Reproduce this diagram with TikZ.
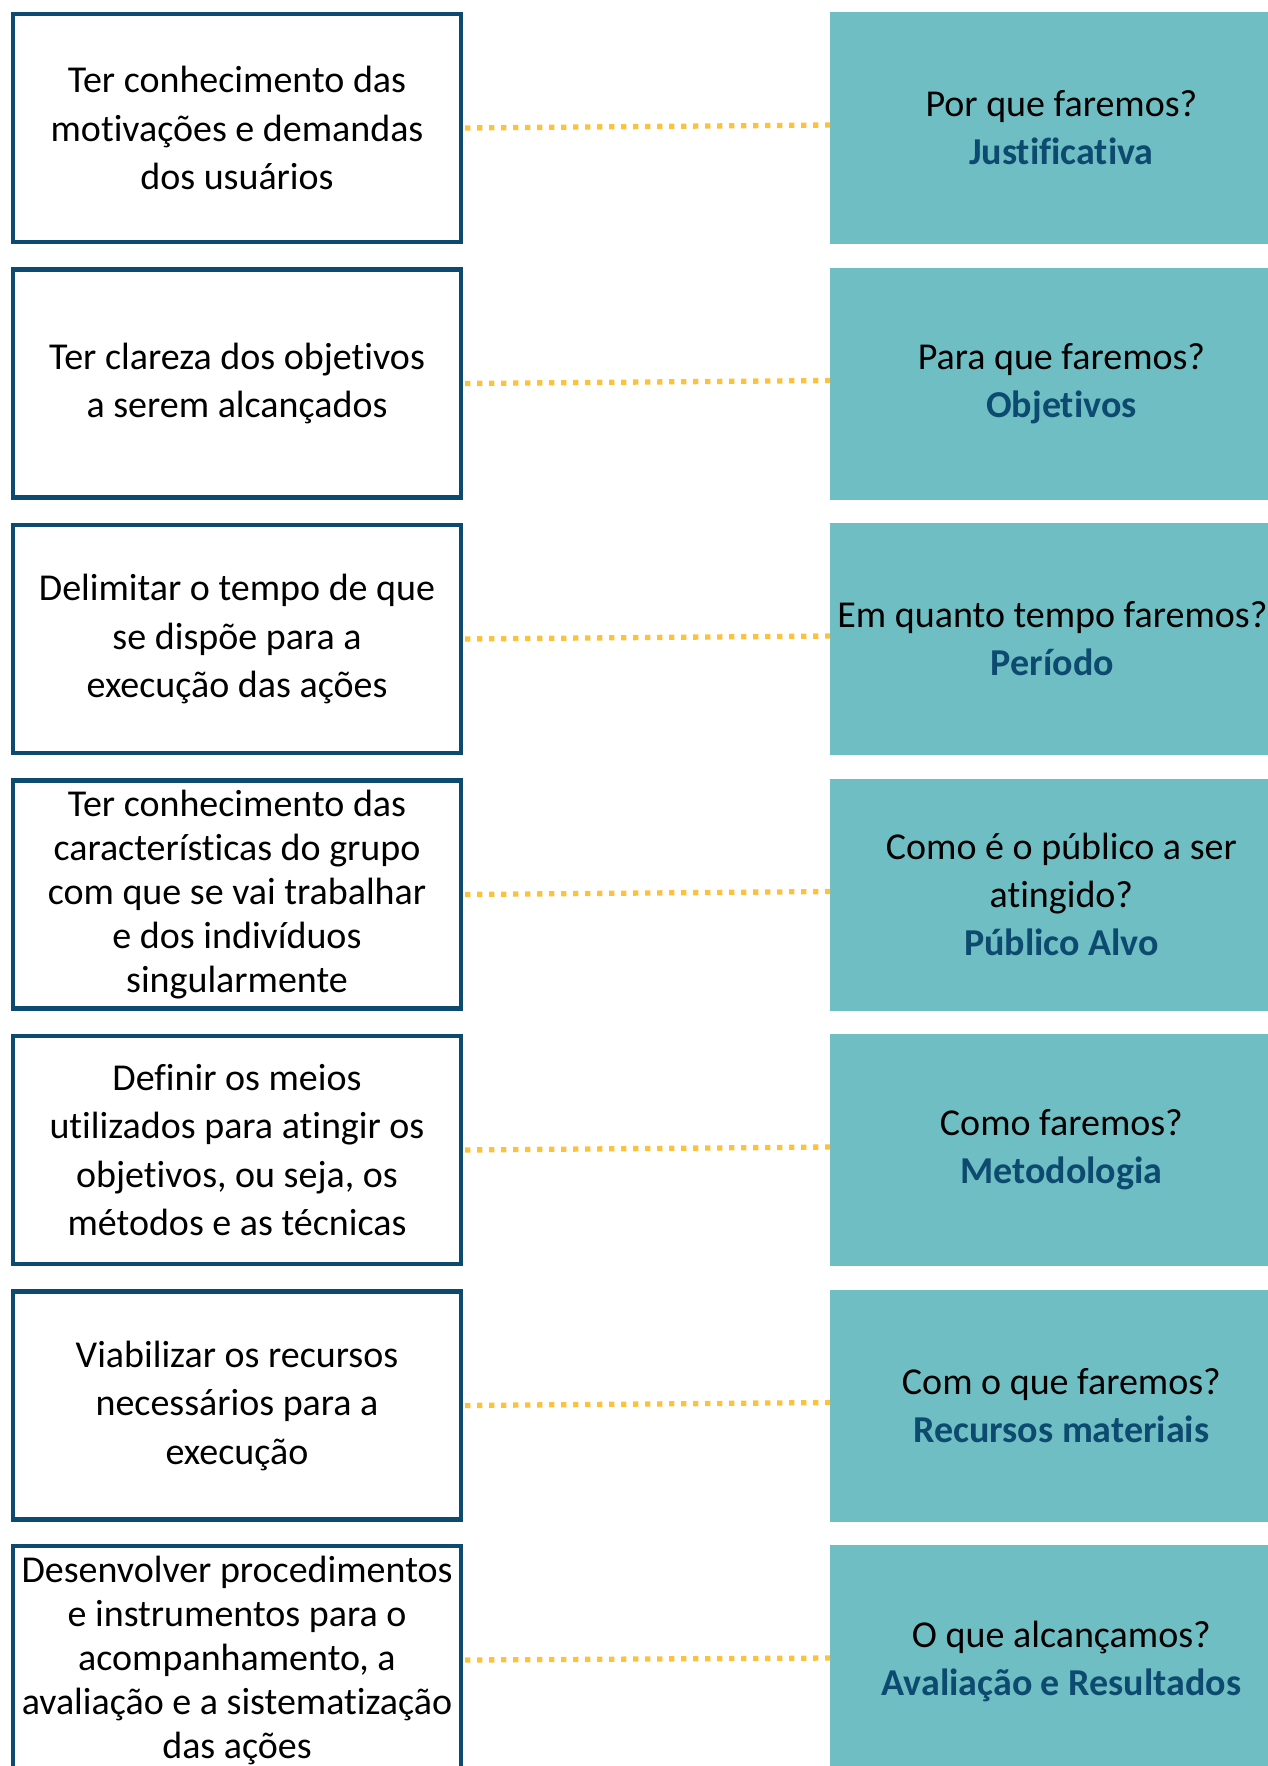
\documentclass[tikz,border=0pt]{standalone}
\usepackage{fontspec}
\setmainfont[RawFeature={-liga;-clig;-calt;-dlig;-rlig}]{Carlito}
\definecolor{navy}{HTML}{0D4A6F}
\definecolor{teal}{HTML}{6EBEC3}
\definecolor{dotyellow}{HTML}{FDC13C}
\begin{document}
\begin{tikzpicture}[x=0.5pt,y=-0.5pt,
  leftbox/.style={draw=navy, line width=2.15pt, fill=white, rectangle,
    minimum width=224pt, minimum height=113.9pt, inner sep=0pt, align=center,
    font=\fontsize{19}{24.25}\selectfont},
  tight/.style={font=\fontsize{19}{22}\selectfont},
  rightbox/.style={fill=teal, rectangle, anchor=west, minimum width=231pt,
    minimum height=116pt, inner sep=0pt, align=center,
    font=\fontsize{19}{24}\selectfont},
  dotline/.style={draw=dotyellow, line width=2.65pt, dash pattern=on 2.65pt off 3.35pt, shorten <=1pt}
]
\useasboundingbox (0,0) rectangle (1268,1766);
\clip (0,0) rectangle (1268,1766);
\newcommand{\hl}[1]{\textbf{\textcolor{navy}{#1}}}

\node[leftbox] (L1) at (237,128) {Ter conhecimento das\\motivações e demandas\\dos usuários};
\node[leftbox] (L2) at (237,383.5) {Ter clareza dos objetivos\\a serem alcançados};
\node[leftbox] (L3) at (237,639) {Delimitar o tempo de que\\se dispõe para a\\execução das ações};
\node[leftbox,tight] (L4) at (237,894.5) {Ter conhecimento das\\características do grupo\\com que se vai trabalhar\\e dos indivíduos\\singularmente};
\node[leftbox] (L5) at (237,1150) {Definir os meios\\utilizados para atingir os\\objetivos, ou seja, os\\métodos e as técnicas};
\node[leftbox] (L6) at (237,1405.5) {Viabilizar os recursos\\necessários para a\\execução};
\node[leftbox,tight] (L7) at (237,1660) {Desenvolver procedimentos\\e instrumentos para o\\acompanhamento, a\\avaliação e a sistematização\\das ações};

\node[rightbox] (R1) at (830,128) {Por que faremos?\\\hl{Justificativa}};
\node[rightbox] (R2) at (830,383.5) {Para que faremos?\\\hl{Objetivos}};
\node[rightbox,minimum width=222pt] (R3) at (830,639) {Em quanto tempo faremos?\\\hl{Período}};
\node[rightbox] (R4) at (830,894.5) {Como é o público a ser\\atingido?\\\hl{Público Alvo}};
\node[rightbox] (R5) at (830,1150) {Como faremos?\\\hl{Metodologia}};
\node[rightbox] (R6) at (830,1405.5) {Com o que faremos?\\\hl{Recursos materiais}};
\node[rightbox] (R7) at (830,1661) {O que alcançamos?\\\hl{Avaliação e Resultados}};

\foreach \i in {1,...,7}{
  \draw[dotline] (L\i.east) -- ([yshift=1.5pt]R\i.west);
}
\end{tikzpicture}
\end{document}
